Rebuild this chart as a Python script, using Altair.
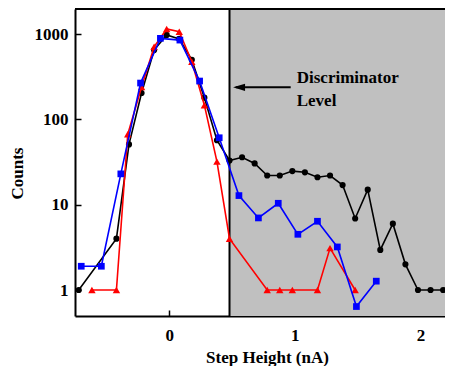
import altair as alt
import pandas as pd

# ---- data ----
black_x = [-0.72, -0.42, -0.32, -0.22, -0.12, -0.02, 0.08, 0.18, 0.28, 0.38, 0.48, 0.58, 0.68,
           0.78, 0.88, 0.98, 1.08, 1.18, 1.28, 1.38, 1.48, 1.58, 1.68, 1.78, 1.88, 1.98, 2.08, 2.18]
black_y = [1, 4, 51, 204, 650, 980, 880, 500, 180, 57, 33, 36, 30.5,
           22, 22, 24.8, 24, 21, 22, 17, 6.9, 15, 2.95, 6, 2, 1, 1, 1]

blue_x = [-0.70, -0.54, -0.385, -0.228, -0.07, 0.085, 0.242, 0.398, 0.555, 0.71, 0.868, 1.024,
          1.18, 1.338, 1.49, 1.648]
blue_y = [1.9, 1.9, 23, 267, 893, 852, 282, 61, 12.8, 7.0, 10.4, 4.5, 6.4, 3.2, 0.64, 1.27]

red_x = [-0.615, -0.42, -0.33, -0.22, -0.12, -0.02, 0.08, 0.18, 0.28, 0.38, 0.48, 0.78, 0.88,
         0.98, 1.18, 1.28, 1.48]
red_y = [1, 1, 67, 240, 711, 1150, 1067, 475, 147, 32, 4, 1, 1, 1, 1, 3.1, 1]

disc_level = [0.48]
x_domain = [-0.7497, 2.195]
y_domain = [0.4958, 1972]
x_ticks = [0, 1, 2]
y_ticks = [1, 10, 100, 1000]

note_x = [1.015, 1.015]
note_y = [267, 143.6]
note_text = ["Discriminator", "Level"]
arrow_x = [0.967]
arrow_x2 = [0.53]
arrow_head_x = [0.556]
arrow_y = [238]

W, H = 370, 307
FONT = "Liberation Serif"

xs = alt.Scale(domain=x_domain, nice=False, zero=False)
ys = alt.Scale(type="log", domain=y_domain, nice=False)

x_axis = alt.Axis(values=x_ticks, format="d", title="Step Height (nA)", grid=False,
                  tickSize={"expr": "-6"}, tickWidth=1.5, tickColor="black",
                  domainColor="black", domainWidth=2, labelPadding=17,
                  labelFont=FONT, labelFontWeight="bold", labelFontSize=17, labelColor="black",
                  titleFont=FONT, titleFontWeight="bold", titleFontSize=17, titleColor="black",
                  titleBaseline="alphabetic", titleY=46, titleX=192)
y_axis = alt.Axis(values=y_ticks, format="d", title="Counts", grid=False,
                  tickSize={"expr": "-6"}, tickWidth=1.5, tickColor="black",
                  domainColor="black", domainWidth=2, labelPadding=13,
                  labelFont=FONT, labelFontWeight="bold", labelFontSize=17, labelColor="black",
                  titleFont=FONT, titleFontWeight="bold", titleFontSize=17, titleColor="black",
                  titleAngle=270, titleAlign="center", titleBaseline="middle",
                  titleX=-58, titleY=164)

rect_df = pd.DataFrame({"x": disc_level, "x2": [x_domain[1]]})
shade = alt.Chart(rect_df).mark_rect(color="#c0c0c0", clip=True).encode(
    x=alt.X("x:Q", scale=xs, axis=x_axis), x2="x2:Q",
    y=alt.value(0), y2=alt.value(H))

rule = alt.Chart(pd.DataFrame({"x": disc_level})).mark_rule(color="black", strokeWidth=2).encode(
    x=alt.X("x:Q", scale=xs), y=alt.value(0), y2=alt.value(H))

top_border = alt.Chart(pd.DataFrame({"x": [x_domain[0]], "x2": [x_domain[1]]})).mark_rule(
    color="black", strokeWidth=2).encode(
    x=alt.X("x:Q", scale=xs), x2="x2:Q", y=alt.value(0))


def series(xv, yv, color, shape, size):
    df = pd.DataFrame({"x": xv, "y": yv})
    return alt.Chart(df).mark_line(
        color=color, strokeWidth=1.6, clip=True,
        point=alt.OverlayMarkDef(shape=shape, size=size, filled=True, color=color, opacity=1)
    ).encode(x=alt.X("x:Q", scale=xs), y=alt.Y("y:Q", scale=ys, axis=y_axis))


black = series(black_x, black_y, "black", "circle", 38)
red = series(red_x, red_y, "#ff0000", "triangle-up", 55)
blue = series(blue_x, blue_y, "#0000ff", "square", 45)

arrow_df = pd.DataFrame({"x": arrow_x, "x2": arrow_x2, "y": arrow_y})
arrow_line = alt.Chart(arrow_df).mark_rule(color="black", strokeWidth=2).encode(
    x=alt.X("x:Q", scale=xs), x2="x2:Q", y=alt.Y("y:Q", scale=ys))
head_df = pd.DataFrame({"x": arrow_head_x, "y": arrow_y})
arrow_head = alt.Chart(head_df).mark_point(
    shape="M-1,0L1,-0.6L1,0.6Z", size=144, filled=True, color="black", opacity=1).encode(
    x=alt.X("x:Q", scale=xs), y=alt.Y("y:Q", scale=ys))

note_df = pd.DataFrame({"x": note_x, "y": note_y, "t": note_text})
note = alt.Chart(note_df).mark_text(
    align="left", baseline="alphabetic", font=FONT, fontWeight="bold", fontSize=17,
    color="black").encode(x=alt.X("x:Q", scale=xs), y=alt.Y("y:Q", scale=ys), text="t:N")

chart = alt.layer(shade, rule, top_border, black, red, blue, arrow_line, arrow_head, note).properties(
    width=W, height=H,
    autosize=alt.AutoSizeParams(type="none"),
    padding={"left": 67, "top": 1, "right": 0, "bottom": 50},
    background="white",
).configure_view(strokeWidth=0)

chart.save("out.html", embed_options={"renderer": "svg", "actions": False})
